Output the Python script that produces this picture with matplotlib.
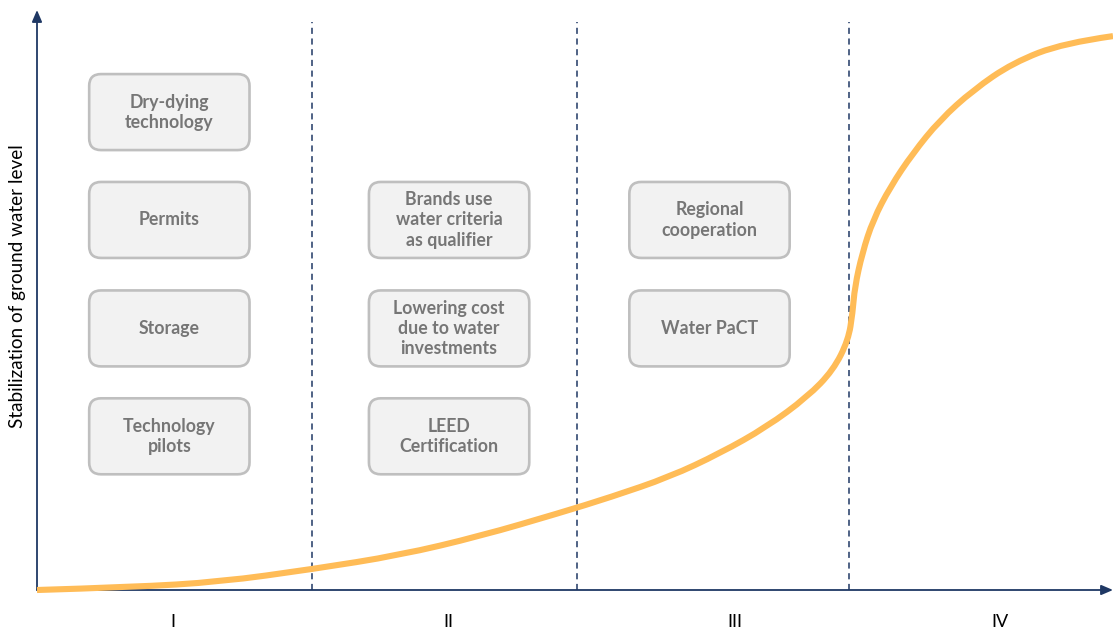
import matplotlib
matplotlib.use("Agg")
import matplotlib.pyplot as plt
from matplotlib.patches import FancyBboxPatch, PathPatch
from matplotlib.path import Path

plt.rcParams['font.family'] = ['Lato', 'DejaVu Sans']

# ---- data (x: 0..100 along the axis, y: 0..100 up the axis) ----
phase_labels = ["I", "II", "III", "IV"]
phase_label_x = [12.6, 38.2, 64.9, 89.5]
phase_bounds = [25.6, 50.2, 75.5]

curve_x = [0, 8.9, 17.0, 25.6, 33.7, 41.2, 48.6, 53.3, 58.8, 63.5, 67.8, 71.6,
           74.0, 75.4, 75.8, 76.0, 76.7, 77.7, 79.3, 81.4, 83.9, 87.0, 90.7, 95.4, 100]
curve_y = [0, 0.5, 1.4, 3.6, 6.0, 9.3, 13.3, 16.0, 19.5, 23.6, 28.1, 33.3,
           37.9, 43.1, 47.8, 52.2, 58.1, 63.8, 69.5, 75.3, 81.0, 86.2, 90.9, 94.3, 95.5]

box_texts = ["Dry-dying\ntechnology", "Permits", "Storage", "Technology\npilots",
             "Brands use\nwater criteria\nas qualifier", "Lowering cost\ndue to water\ninvestments",
             "LEED\nCertification",
             "Regional\ncooperation", "Water PaCT"]
box_cx = [12.3, 12.3, 12.3, 12.3, 38.3, 38.3, 38.3, 62.5, 62.5]
box_cy = [82.4, 63.8, 45.1, 26.5, 63.8, 45.1, 26.5, 63.8, 45.1]
box_w = 14.9
box_h = 13.1

y_label = "Stabilization of ground water level"

# ---- figure ----
W, H = 1113, 630
fig = plt.figure(figsize=(W / 100, H / 100), dpi=100)
ax = fig.add_axes([37 / W, 40 / H, 1076 / W, 580 / H])
ax.set_xlim(0, 100)
ax.set_ylim(0, 100)
for s in ax.spines.values():
    s.set_visible(False)

navy = '#1F3864'
aspect = (100 / 580) / (100 / 1076)

# axes arrows
arrow_kw = dict(arrowstyle='-|>,head_length=0.7,head_width=0.3', color=navy, lw=1.3,
                shrinkA=0, shrinkB=0)
ax.annotate('', xy=(0, 100), xytext=(0, 0), arrowprops=arrow_kw, annotation_clip=False)
ax.annotate('', xy=(100, 0), xytext=(0, 0), arrowprops=arrow_kw, annotation_clip=False)

# phase separators
for b in phase_bounds:
    ax.plot([b, b], [0, 97.9], color=navy, lw=1.1, ls=(0, (4, 3)), zorder=1)

# boxes
for t, cx, cy in zip(box_texts, box_cx, box_cy):
    p = FancyBboxPatch((cx - box_w / 2, cy - box_h / 2), box_w, box_h,
                       boxstyle="round,pad=0,rounding_size=1.1", mutation_aspect=aspect,
                       facecolor='#F2F2F2', edgecolor='#BFBFBF', lw=1.9, zorder=2)
    ax.add_patch(p)
    ax.text(cx, cy, t, ha='center', va='center', fontsize=12.8, fontweight='bold',
            color='#767676', linespacing=1.22, zorder=3)

# curve, drawn as a smooth quadratic path through the read points
pts = list(zip(curve_x, curve_y))
verts = [pts[0]]
codes = [Path.MOVETO]
for i in range(1, len(pts) - 1):
    mx = (pts[i][0] + pts[i + 1][0]) / 2
    my = (pts[i][1] + pts[i + 1][1]) / 2
    verts += [pts[i], (mx, my) if i < len(pts) - 2 else pts[i + 1]]
    codes += [Path.CURVE3, Path.CURVE3]
curve = PathPatch(Path(verts, codes), facecolor='none', edgecolor='#FFBC57', lw=4.4,
                  capstyle='butt', joinstyle='round', zorder=4, clip_on=False)
ax.add_patch(curve)

# ticks
ax.set_xticks(phase_label_x, phase_labels, fontsize=13)
ax.tick_params(axis='x', length=0, pad=17)
ax.set_yticks([])

# y label
fig.text(18 / W, 1 - 286 / H, y_label, rotation=90, ha='center', va='center',
         fontsize=13.6, color='black')

fig.savefig('out.png', dpi=100)
